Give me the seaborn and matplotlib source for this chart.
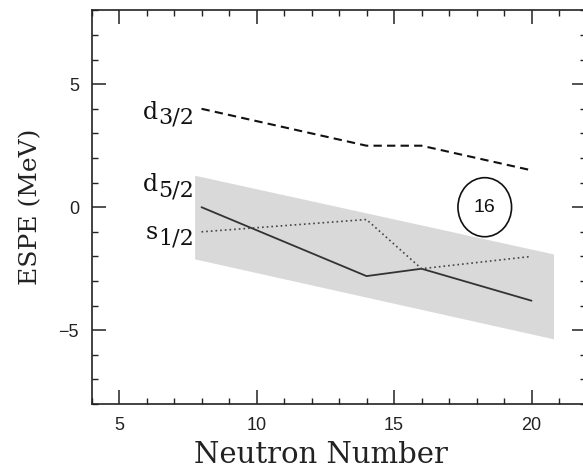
import matplotlib
matplotlib.use("Agg")
import matplotlib.pyplot as plt
import numpy as np
import pandas as pd
import seaborn as sns
from matplotlib.patches import Ellipse
from matplotlib.ticker import MultipleLocator

neutron = [8, 14, 16, 20]
espe_d32 = [4.0, 2.5, 2.5, 1.5]
espe_d52 = [0.0, -2.8, -2.5, -3.8]
espe_s12 = [-1.0, -0.5, -2.5, -2.0]

# shaded band (corners)
band_x = [7.75, 20.8]
band_top = [1.3, -1.9]
band_bottom = [-2.1, -5.35]

# orbit labels: (letter, subscript, y of baseline)
orbit_labels = [("d", "3/2", 3.6), ("d", "5/2", 0.65), ("s", "1/2", -1.3)]

shell_gap = "16"
gap_pos = (18.3, 0.0)

df = pd.DataFrame({
    "N": neutron * 3,
    "ESPE": espe_d32 + espe_d52 + espe_s12,
    "orbit": ["d32"] * 4 + ["d52"] * 4 + ["s12"] * 4,
})

sns.set_theme(style="ticks")
plt.rcParams["font.family"] = ["Liberation Sans", "DejaVu Sans"]

fig = plt.figure(figsize=(5.83, 4.72), dpi=100)
ax = fig.add_axes([0.157, 0.144, 0.849, 0.834])

ax.fill_between(band_x, band_top, band_bottom, color="#d9d9d9", lw=0, zorder=1)

styles = {
    "d32": dict(color="#111111", lw=1.5, dashes=(4, 2.5)),
    "d52": dict(color="#333333", lw=1.3, dashes=()),
    "s12": dict(color="#444444", lw=1.2, dashes=(1, 1.8)),
}
for orbit, kw in styles.items():
    sub = df[df["orbit"] == orbit]
    sns.lineplot(data=sub, x="N", y="ESPE", ax=ax, color=kw["color"],
                 lw=kw["lw"], legend=False, zorder=3)
    ln = ax.get_lines()[-1]
    if kw["dashes"]:
        ln.set_dashes(kw["dashes"])

serif = ["DejaVu Serif"]
for letter, subs, yb in orbit_labels:
    ax.annotate(subs, xy=(7.72, yb), xytext=(0, -3.5), textcoords="offset points",
                ha="right", va="baseline", fontsize=16, family=serif, color="#111111")
    ax.annotate(letter, xy=(7.72, yb), xytext=(-26, 0), textcoords="offset points",
                ha="right", va="baseline", fontsize=17, family=serif, color="#111111")

ax.add_patch(Ellipse(gap_pos, 1.95, 2.4, fill=False, ec="#111111", lw=1.2, zorder=4))
ax.text(gap_pos[0], gap_pos[1], shell_gap, ha="center", va="center", fontsize=14, color="#111111")

ax.set_xlim(4, 22)
ax.set_ylim(-8, 8)
ax.set_xticks([5, 10, 15, 20])
ax.set_yticks([-5, 0, 5])
ax.set_yticklabels(["\u22125", "0", "5"])
ax.xaxis.set_minor_locator(MultipleLocator(1))
ax.yaxis.set_minor_locator(MultipleLocator(1))
ax.tick_params(which="both", direction="in", top=True, right=True, colors="#222222",
               labelsize=13, labelcolor="#222222")
ax.tick_params(which="major", length=10, width=1.1)
ax.tick_params(which="minor", length=4, width=1.0)
ax.tick_params(axis="x", pad=9)
ax.tick_params(axis="y", pad=9)

ax.set_xlabel("Neutron Number", fontsize=21, family=serif, color="#222222")
ax.xaxis.set_label_coords(0.463, -0.095)
ax.set_ylabel("ESPE (MeV)", fontsize=18, family=serif, color="#222222", labelpad=12)

for sp in ax.spines.values():
    sp.set_visible(True)
    sp.set_linewidth(1.2)
    sp.set_color("#222222")

fig.savefig("out.png", dpi=100)
